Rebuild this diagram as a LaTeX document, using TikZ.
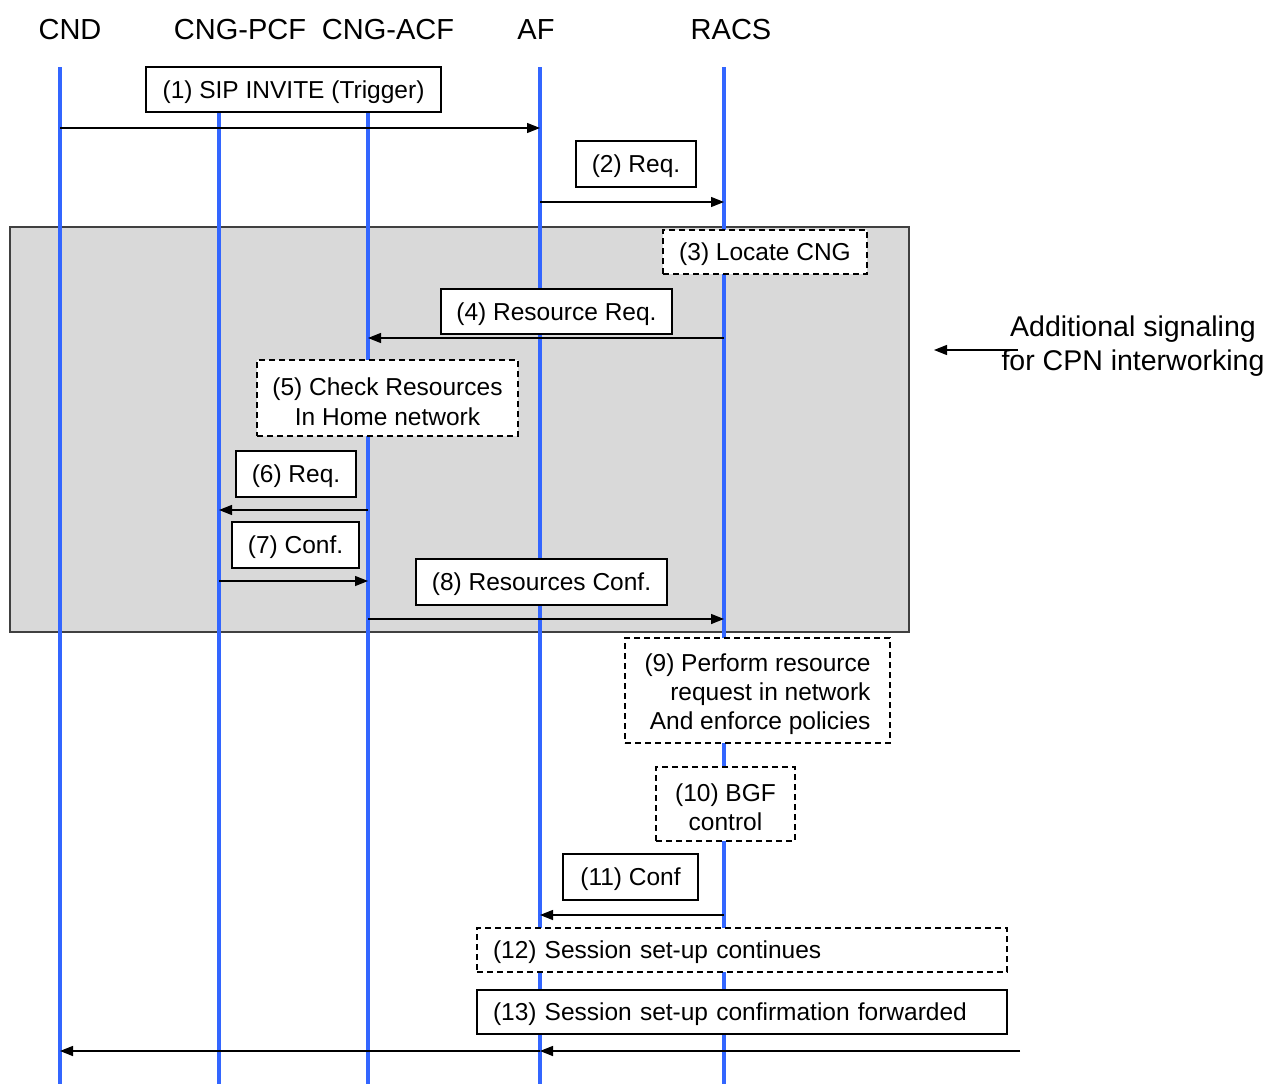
\documentclass[tikz,border=0pt]{standalone}
\usepackage{fontspec}
\setmainfont{Liberation Sans}
\usetikzlibrary{arrows.meta}
\definecolor{lifeblue}{RGB}{51,102,255}
\definecolor{regiongray}{RGB}{217,217,217}
% taller first line, so that stacked lines sit a little lower in their box
\newcommand\toplinestrut{\rule{0pt}{24.5pt}}
\tikzset{
  head/.style={font=\fontsize{29}{33}\selectfont, inner sep=0pt},
  lifeline/.style={draw=lifeblue, line width=4pt},
  labelbase/.style={draw=black, line width=1.4pt, fill=white, inner sep=0pt,
                 font=\fontsize{24.5}{29}\selectfont, align=center},
  oneline/.style={text height=21pt, text depth=3.5pt},
  msgbox/.style={labelbase, oneline},
  notebox/.style={labelbase, oneline, dash pattern=on 6pt off 4pt},
  multinote/.style={labelbase, dash pattern=on 6pt off 4pt},
  msg/.style={draw=black, line width=1.4pt, -{Triangle[length=13pt,width=10pt]}},
  region/.style={fill=regiongray, draw=black!75, line width=1.4pt},
}
\begin{document}
\begin{tikzpicture}[x=1pt,y=-1pt]
\useasboundingbox (0,0) rectangle (1267,1084);
\fill[white] (0,0) rectangle (1267,1084);

% shaded block: extra signalling for CPN interworking
\draw[region] (10,227) rectangle (909,632);

% participants
\node[head] (hCND) at (70,30) {CND};
\node[head] (hPCF) at (240,30) {CNG-PCF};
\node[head] (hACF) at (388,30) {CNG-ACF};
\node[head] (hAF)  at (536,30) {AF};
\node[head] (hRACS) at (731,30) {RACS};

% lifelines
\coordinate (tCND) at (60,67);   \coordinate (bCND) at (60,1084);
\coordinate (tPCF) at (219,112); \coordinate (bPCF) at (219,1084);
\coordinate (tACF) at (368,112); \coordinate (bACF) at (368,1084);
\coordinate (tAF)  at (540,67);  \coordinate (bAF)  at (540,1084);
\coordinate (tRACS) at (724,67); \coordinate (bRACS) at (724,1084);
\draw[lifeline] (tCND) -- (bCND);
\draw[lifeline] (tPCF) -- (bPCF);
\draw[lifeline] (tACF) -- (bACF);
\draw[lifeline] (tAF) -- (bAF);
\draw[lifeline] (tRACS) -- (bRACS);

% step labels
\node[msgbox, minimum width=295pt, minimum height=45pt] (s1) at (293.5,89.5) {(1) SIP INVITE (Trigger)};
\node[msgbox, minimum width=120pt, minimum height=46pt] (s2) at (636,164) {(2) Req.};
\node[notebox, minimum width=204pt, minimum height=44pt] (s3) at (765,252) {(3) Locate CNG};
\node[msgbox, minimum width=231pt, minimum height=45pt] (s4) at (556.5,311.5) {(4) Resource Req.};
\node[multinote, minimum width=261pt, minimum height=76pt, font=\fontsize{24.5}{30}\selectfont] (s5) at (387.5,398) {\toplinestrut(5) Check Resources\\In Home network};
\node[msgbox, minimum width=120pt, minimum height=46pt] (s6) at (296,474) {(6) Req.};
\node[msgbox, minimum width=127pt, minimum height=46pt] (s7) at (295.5,545) {(7) Conf.};
\node[msgbox, minimum width=251pt, minimum height=46pt] (s8) at (541.5,582) {(8) Resources Conf.};
\node[multinote, minimum width=265pt, minimum height=105pt, align=right] (s9) at (757.5,690.5) {\toplinestrut(9) Perform resource\\request in network\\And enforce policies};
\node[multinote, minimum width=139pt, minimum height=74pt] (s10) at (725.5,804) {\toplinestrut(10) BGF\\control};
\node[msgbox, minimum width=135pt, minimum height=46pt] (s11) at (630.5,877) {(11) Conf};
\node[notebox, minimum width=530pt, minimum height=44pt, text width=498pt, align=left] (s12) at (742,950) {(12) Session set-up continues};
\node[msgbox, minimum width=530pt, minimum height=44pt, text width=498pt, align=left] (s13) at (742,1012) {(13) Session set-up confirmation forwarded};

% message end points on the lifelines
\coordinate (m1a) at (60,128);  \coordinate (m1b) at (540,128);
\coordinate (m2a) at (540,202); \coordinate (m2b) at (724,202);
\coordinate (m4a) at (724,338); \coordinate (m4b) at (368,338);
\coordinate (m6a) at (368,510); \coordinate (m6b) at (219,510);
\coordinate (m7a) at (219,581); \coordinate (m7b) at (368,581);
\coordinate (m8a) at (368,619); \coordinate (m8b) at (724,619);
\coordinate (m11a) at (724,915); \coordinate (m11b) at (540,915);
\coordinate (m13a) at (1020,1051); \coordinate (m13b) at (540,1051); \coordinate (m13c) at (60,1051);

% messages
\draw[msg] (m1a) -- (m1b);
\draw[msg] (m2a) -- (m2b);
\draw[msg] (m4a) -- (m4b);
\draw[msg] (m6a) -- (m6b);
\draw[msg] (m7a) -- (m7b);
\draw[msg] (m8a) -- (m8b);
\draw[msg] (m11a) -- (m11b);
\draw[msg] (m13a) -- (m13b);
\draw[msg] (m13b) -- (m13c);

% side note on the shaded block
\node[font=\fontsize{28.5}{34}\selectfont, align=center, inner sep=0pt] (note) at (1133,346) {Additional signaling\\for CPN interworking};
\coordinate (nA) at (1018,350); \coordinate (nB) at (934,350);
\draw[msg] (nA) -- (nB);
\end{tikzpicture}
\end{document}
